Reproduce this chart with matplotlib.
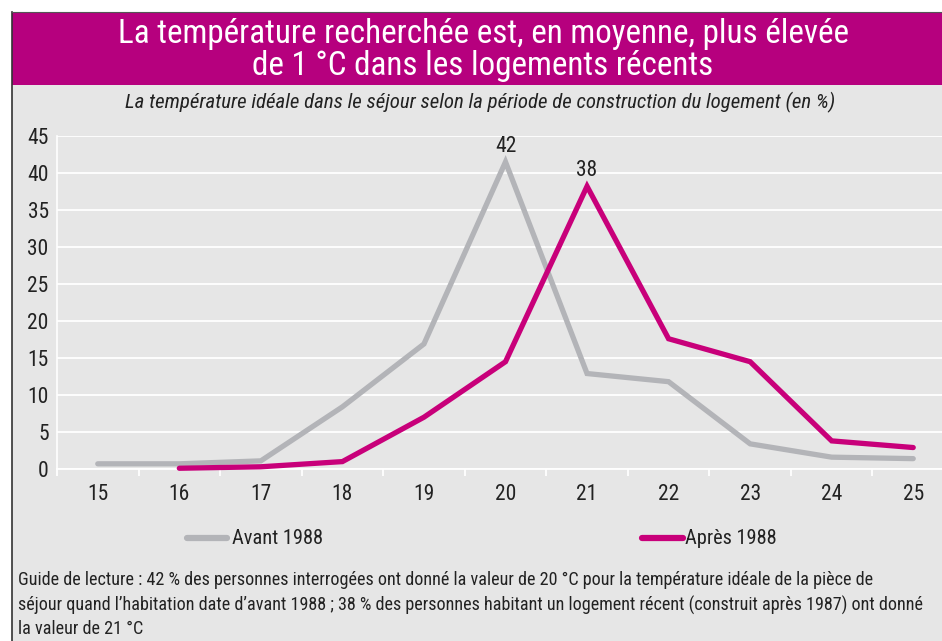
import matplotlib
matplotlib.use("Agg")
import matplotlib.pyplot as plt
from matplotlib import font_manager as fm
from matplotlib.patches import Rectangle
from matplotlib.lines import Line2D

# ---- data ----
temperatures = [15, 16, 17, 18, 19, 20, 21, 22, 23, 24, 25]
avant_1988 = [0.7, 0.7, 1.1, 8.4, 16.9, 41.5, 12.9, 11.8, 3.4, 1.6, 1.4]
apres_temps = [16, 17, 18, 19, 20, 21, 22, 23, 24, 25]
apres_1988 = [0.1, 0.3, 1.0, 7.0, 14.5, 38.2, 17.6, 14.5, 3.8, 2.9]
y_ticks = [0, 5, 10, 15, 20, 25, 30, 35, 40, 45]
series_names = ["Avant 1988", "Après 1988"]
peak_labels = [(20, 41.5, "42"), (21, 38.2, "38")]

title_lines = ["La température recherchée est, en moyenne, plus élevée",
               "de 1 °C dans les logements récents"]
subtitle = "La température idéale dans le séjour selon la période de construction du logement (en %)"
footer_lines = ["Guide de lecture : 42 % des personnes interrogées ont donné la valeur de 20 °C pour la température idéale de la pièce de",
                "séjour quand l’habitation date d’avant 1988 ; 38 % des personnes habitant un logement récent (construit après 1987) ont donné",
                "la valeur de 21 °C"]

# ---- font choice ----
available = {f.name for f in fm.fontManager.ttflist}
italic_available = {f.name for f in fm.fontManager.ttflist if f.style == "italic"}
candidates = ["Roboto Condensed", "Liberation Sans Narrow", "Archivo Narrow", "PT Sans Narrow",
              "Fira Sans Condensed", "Sofia Sans Condensed"]
main_font = next((c for c in candidates if c in available), "DejaVu Sans")
ital_font = next((c for c in candidates if c in italic_available), main_font)
FONT = [main_font, "DejaVu Sans"]
IFONT = [ital_font, "DejaVu Sans"]
plt.rcParams["font.family"] = FONT

# ---- style ----
W, H = 942, 641
MAGENTA_BAND = "#B6007E"
MAGENTA_LINE = "#C8007A"
GRAY_LINE = "#B3B4B8"
BG = "#E6E6E6"
TXT = "#222222"

def fx(x):
    return x / W

def fy(y):
    return 1 - y / H

fig = plt.figure(figsize=(W / 100, H / 100), dpi=100)
fig.patch.set_facecolor("white")

fig.add_artist(Rectangle((fx(12), fy(641)), fx(942) - fx(12), fy(85) - fy(641),
                         transform=fig.transFigure, facecolor=BG, edgecolor="none", zorder=0))
fig.add_artist(Rectangle((fx(12), fy(85)), fx(942) - fx(12), fy(12) - fy(85),
                         transform=fig.transFigure, facecolor=MAGENTA_BAND, edgecolor="none", zorder=0))
fig.add_artist(Line2D([fx(12), fx(12)], [fy(12), fy(641)], transform=fig.transFigure,
                      color="#333333", lw=1.2, zorder=1))
fig.add_artist(Line2D([fx(12), fx(942)], [fy(12), fy(12)], transform=fig.transFigure,
                      color="#555555", lw=0.8, zorder=1))

for yy, line in zip([34, 66], title_lines):
    fig.text(fx(483), fy(yy), line, ha="center", va="center", color="white", fontsize=23.9)
fig.text(fx(480), fy(102), subtitle, ha="center", va="center", color=TXT,
         fontsize=15, style="italic", family=IFONT)

x_left, x_right = 57, 954
y_bottom, y_top = 469, 136
ax = fig.add_axes([fx(x_left), fy(y_bottom), fx(x_right) - fx(x_left), fy(y_top) - fy(y_bottom)])
ax.set_facecolor("none")
ax.set_xlim(temperatures[0] - 0.5, temperatures[-1] + 0.5)
ax.set_ylim(0, 45)
for s in ["top", "right"]:
    ax.spines[s].set_visible(False)
ax.spines["left"].set_color("white")
ax.spines["left"].set_linewidth(1.2)
ax.spines["bottom"].set_color("white")
ax.spines["bottom"].set_linewidth(1.3)
ax.set_yticks(y_ticks)
ax.set_yticklabels([str(v) for v in y_ticks])
ax.yaxis.grid(True, color="white", lw=1.3)
ax.set_axisbelow(True)
ax.tick_params(axis="y", length=0, labelsize=15.5, labelcolor=TXT, pad=6)

ax.set_xticks([t - 0.5 for t in temperatures] + [temperatures[-1] + 0.5])
ax.set_xticklabels([])
ax.set_xticks(temperatures, minor=True)
ax.set_xticklabels([str(t) for t in temperatures], minor=True)
ax.tick_params(axis="x", which="major", length=5, color="white", width=1.3, direction="out")
ax.tick_params(axis="x", which="minor", length=0, labelsize=15.5, labelcolor=TXT, pad=11)

ax.plot(temperatures, avant_1988, color=GRAY_LINE, lw=3.8, solid_capstyle="round",
        solid_joinstyle="miter", clip_on=False, zorder=3)
ax.plot(apres_temps, apres_1988, color=MAGENTA_LINE, lw=3.8, solid_capstyle="round",
        solid_joinstyle="miter", clip_on=False, zorder=4)

for xv, yv, lab in peak_labels:
    ax.annotate(lab, (xv, yv), xytext=(0, 3.5), textcoords="offset points",
                ha="center", va="bottom", fontsize=15.5, color=TXT)

fig.add_artist(Line2D([fx(187), fx(227)], [fy(538), fy(538)], transform=fig.transFigure,
                      color=GRAY_LINE, lw=4.5, solid_capstyle="round"))
fig.text(fx(232), fy(538), series_names[0], ha="left", va="center", fontsize=14.7, color=TXT)
fig.add_artist(Line2D([fx(642), fx(683)], [fy(538), fy(538)], transform=fig.transFigure,
                      color=MAGENTA_LINE, lw=4.5, solid_capstyle="round"))
fig.text(fx(685), fy(538), series_names[1], ha="left", va="center", fontsize=14.7, color=TXT)

for yy, line in zip([580, 605, 629], footer_lines):
    fig.text(fx(18), fy(yy), line, ha="left", va="center", fontsize=13.1, color=TXT)

fig.savefig("out.png", dpi=100)
